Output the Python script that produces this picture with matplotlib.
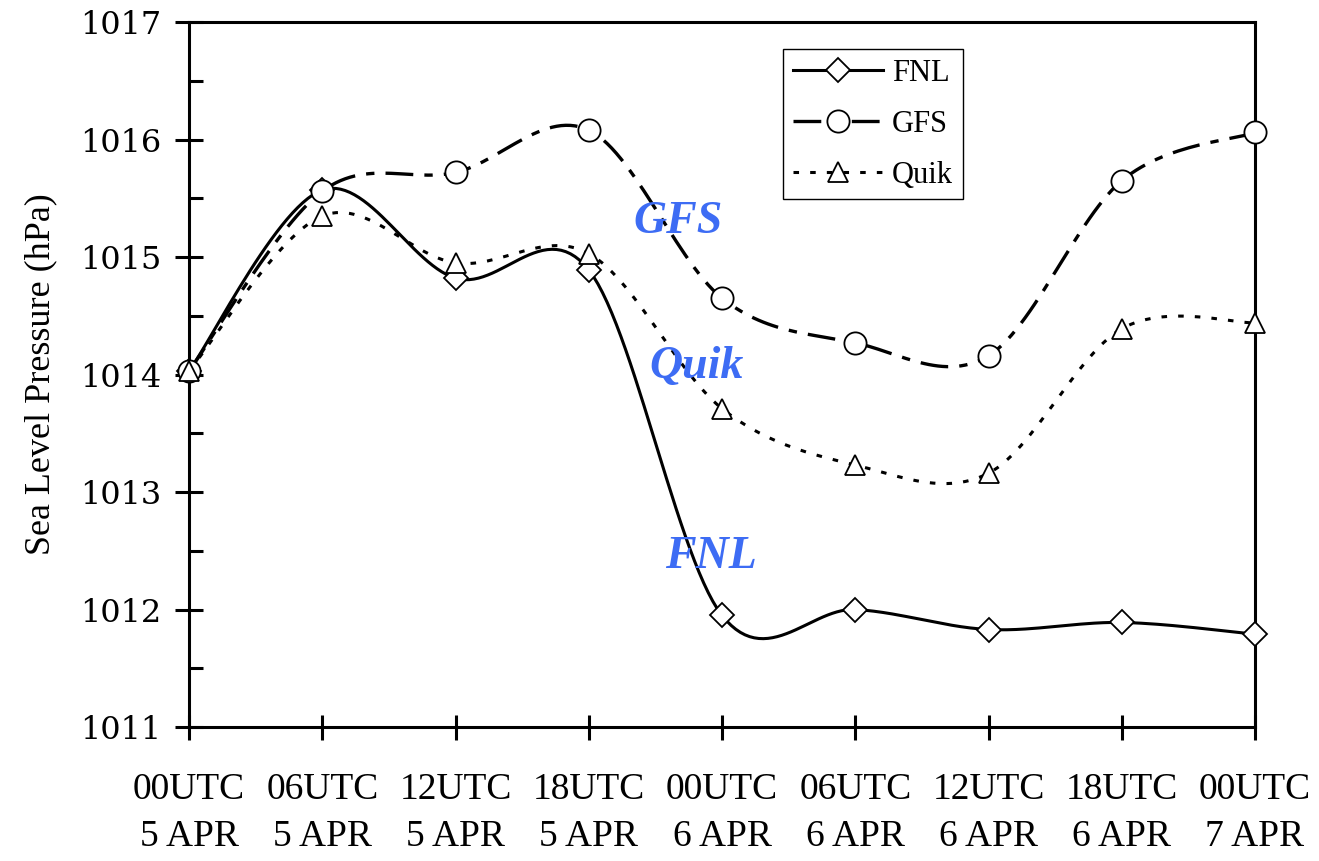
import numpy as np
import matplotlib
matplotlib.use("Agg")
from matplotlib import pyplot as plt

plt.rcParams['font.family'] = ['Liberation Serif', 'DejaVu Serif']
plt.rcParams['lines.scale_dashes'] = False

times = ["00UTC\n5 APR", "06UTC\n5 APR", "12UTC\n5 APR", "18UTC\n5 APR",
         "00UTC\n6 APR", "06UTC\n6 APR", "12UTC\n6 APR", "18UTC\n6 APR",
         "00UTC\n7 APR"]
fnl = [1014.03, 1015.57, 1014.82, 1014.89, 1011.95, 1012.00, 1011.83, 1011.89, 1011.79]
gfs = [1014.03, 1015.56, 1015.72, 1016.08, 1014.65, 1014.27, 1014.16, 1015.65, 1016.06]
quik = [1014.03, 1015.35, 1014.95, 1015.03, 1013.71, 1013.23, 1013.16, 1014.39, 1014.44]


def smooth(xs, ys, n=30):
    # Excel-like smoothed line (Catmull-Rom bezier)
    p = np.column_stack([xs, ys]).astype(float)
    out = [p[0]]
    for i in range(len(p) - 1):
        p0 = p[i - 1] if i > 0 else p[i]
        p1, p2 = p[i], p[i + 1]
        p3 = p[i + 2] if i + 2 < len(p) else p[i + 1]
        b1 = p1 + (p2 - p0) / 6
        b2 = p2 - (p3 - p1) / 6
        t = np.linspace(0, 1, n)[1:, None]
        seg = ((1 - t) ** 3) * p1 + 3 * ((1 - t) ** 2) * t * b1 + 3 * (1 - t) * t ** 2 * b2 + t ** 3 * p2
        out.extend(seg)
    out = np.array(out)
    return out[:, 0], out[:, 1]


x = np.arange(len(times))

fig = plt.figure(figsize=(13.19, 8.61), dpi=100)
ax = fig.add_axes([0.1433, 0.1556, 0.8082, 0.8188])

styles = [
    ("FNL", fnl, dict(color="black", lw=2.2, linestyle="-"), dict(marker="D", ms=12)),
    ("GFS", gfs, dict(color="black", lw=2.4, dashes=(20, 8, 6, 8)), dict(marker="o", ms=16)),
    ("Quik", quik, dict(color="black", lw=2.2, dashes=(4, 8)), dict(marker="^", ms=15)),
]

for name, vals, ls, mk in styles:
    sx, sy = smooth(x, vals)
    ax.plot(sx, sy, zorder=2, **ls)
    ax.plot(x, vals, linestyle="none", mfc="white", mec="black", mew=1.3,
            clip_on=False, zorder=3, **mk)
    # legend proxy
    ax.plot([], [], label=name, mfc="white", mec="black", mew=1.3, **ls, **mk)

ax.set_xlim(0, 8)
ax.set_ylim(1011, 1017)
ax.set_xticks(x)
ax.set_xticklabels(times, fontsize=27, linespacing=1.45)
ax.set_yticks(np.arange(1011, 1018, 1))
ax.set_yticks(np.arange(1011.5, 1017, 1), minor=True)
ax.tick_params(axis="y", which="major", direction="inout", length=20, width=2.2,
               labelsize=24, pad=10)
ax.tick_params(axis="y", which="minor", direction="in", length=10, width=2.2)
ax.tick_params(axis="x", which="major", direction="inout", length=18, width=2.2,
               pad=24)
for lab in ax.get_yticklabels():
    lab.set_fontfamily("DejaVu Serif")
    lab.set_fontsize(23)
for s in ax.spines.values():
    s.set_linewidth(2.2)

ax.set_ylabel("Sea Level Pressure (hPa)", fontsize=26, labelpad=16)

blue = "#3D6CF4"
ax.text(3.67, 1015.30, "GFS", color=blue, fontsize=33, fontweight="bold",
        fontstyle="italic", ha="center", va="center")
ax.text(3.81, 1014.06, "Quik", color=blue, fontsize=33, fontweight="bold",
        fontstyle="italic", ha="center", va="center")
ax.text(3.92, 1012.45, "FNL", color=blue, fontsize=33, fontweight="bold",
        fontstyle="italic", ha="center", va="center")

leg = ax.legend(loc="upper left", bbox_to_anchor=(0.557, 0.962), borderaxespad=0,
                fontsize=22, handlelength=2.95, fancybox=False, framealpha=1,
                edgecolor="black", labelspacing=0.72, handletextpad=0.3,
                borderpad=0.32)
leg.get_frame().set_linewidth(1.0)

fig.savefig("out.png", dpi=100)
